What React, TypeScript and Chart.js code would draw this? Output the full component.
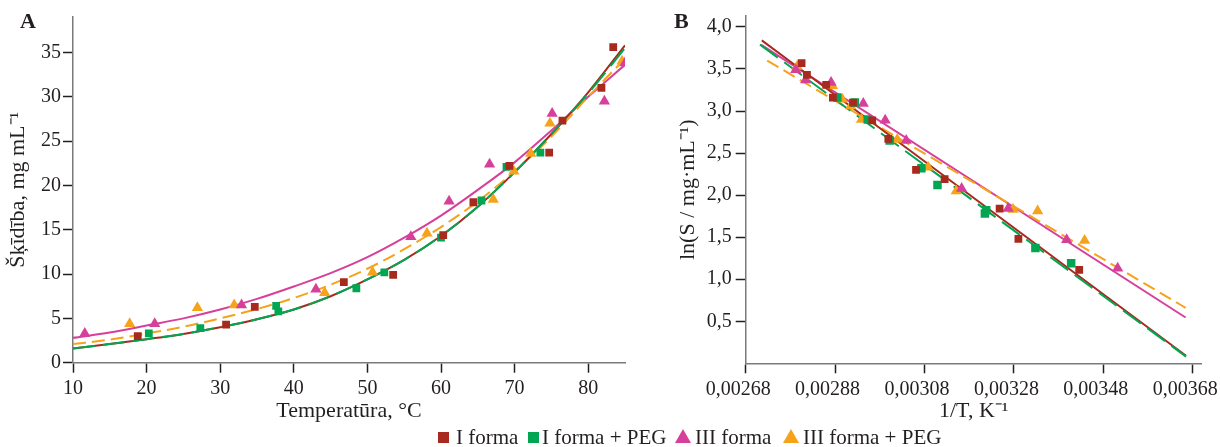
import React, { useEffect, useRef } from 'react';
import { Chart, registerables } from 'chart.js';
Chart.register(...registerables);

const FONT = '"Liberation Serif", "Times New Roman", serif';
const TXT = '#231F20';
const RED = '#A82A1E';
const GREEN = '#00A651';
const PINK = '#D6409B';
const ORANGE = '#F7A21B';

// ---- tick labels ----
const A_TICKS_X = [10, 20, 30, 40, 50, 60, 70, 80];
const A_TICKS_Y = [0, 5, 10, 15, 20, 25, 30, 35];
const B_TICKS_X = [0.00268, 0.00288, 0.00308, 0.00328, 0.00348, 0.00368];
const B_TICKS_Y = [0.5, 1.0, 1.5, 2.0, 2.5, 3.0, 3.5, 4.0];

// ---- series names ----
const SERIES = ['I forma', 'I forma + PEG', 'III forma', 'III forma + PEG'];

// ---- Panel A: measured points (T, °C ; S, mg/mL) ----
const tIForma = [18.8, 30.8, 34.7, 46.8, 53.5, 60.3, 64.4, 69.3, 74.7, 76.5, 81.8, 83.4];
const sIForma = [3.0, 4.3, 6.3, 9.1, 9.9, 14.4, 18.1, 22.2, 23.7, 27.3, 31.0, 35.6];
const tIFormaPEG = [20.3, 27.3, 37.6, 37.9, 48.5, 52.3, 60.0, 65.5, 68.9, 73.5];
const sIFormaPEG = [3.3, 3.9, 6.4, 5.8, 8.4, 10.2, 14.1, 18.3, 22.1, 23.7];
const tIIIForma = [11.6, 21.1, 32.9, 43.0, 55.9, 61.1, 66.6, 75.1, 82.2, 85.0];
const sIIIForma = [3.3, 4.4, 6.5, 8.3, 14.2, 18.2, 22.4, 28.1, 29.5, 33.8];
const tIIIFormaPEG = [17.7, 26.9, 31.9, 44.2, 50.7, 58.1, 67.1, 69.9, 72.2, 74.8, 84.6];
const sIIIFormaPEG = [4.4, 6.2, 6.5, 7.9, 10.2, 14.6, 18.4, 21.6, 23.6, 27.0, 34.0];

// ---- Panel A: fitted curves ----
const tFit = [10, 15, 20, 25, 30, 35, 40, 45, 50, 55, 60, 65, 70, 75, 80, 85];
const fitIForma = [1.6, 2.1, 2.65, 3.25, 4.0, 4.9, 6.0, 7.5, 9.4, 11.6, 14.3, 17.6, 21.5, 25.8, 30.5, 35.8];
const fitIFormaPEG = [1.6, 2.1, 2.65, 3.25, 4.0, 4.9, 6.0, 7.5, 9.4, 11.6, 14.3, 17.6, 21.5, 25.8, 30.4, 35.5];
const fitIIIForma = [2.8, 3.4, 4.2, 5.0, 6.0, 7.2, 8.6, 10.1, 11.9, 14.1, 16.6, 19.5, 22.6, 26.2, 30.0, 33.6];
const fitIIIFormaPEG = [2.1, 2.6, 3.3, 4.05, 5.0, 6.05, 7.3, 8.8, 10.6, 12.8, 15.3, 18.2, 21.6, 25.5, 30.0, 34.3];

// ---- Panel B: measured points (1/T ; ln S) ----
const xIForma = [0.002805, 0.002817, 0.00286, 0.002875, 0.00292, 0.002963, 0.002999, 0.003061, 0.003125, 0.003248, 0.00329, 0.003426];
const yIForma = [3.57, 3.43, 3.31, 3.16, 3.1, 2.89, 2.67, 2.3, 2.19, 1.84, 1.48, 1.11];
const xIFormaPEG = [0.002885, 0.002924, 0.002953, 0.003002, 0.003073, 0.003109, 0.003215, 0.003218, 0.003328, 0.003408];
const yIFormaPEG = [3.16, 3.1, 2.9, 2.65, 2.32, 2.12, 1.78, 1.82, 1.37, 1.19];
const xIIIForma = [0.002792, 0.002814, 0.002871, 0.002943, 0.002992, 0.003039, 0.003163, 0.003267, 0.003398, 0.003512];
const yIIIForma = [3.49, 3.37, 3.34, 3.09, 2.89, 2.65, 2.08, 1.84, 1.47, 1.13];
const xIIIFormaPEG = [0.002795, 0.002874, 0.002896, 0.002915, 0.002939, 0.003019, 0.003088, 0.003151, 0.003278, 0.003333, 0.003438];
const yIIIFormaPEG = [3.53, 3.3, 3.14, 3.06, 2.9, 2.66, 2.33, 2.05, 1.83, 1.81, 1.46];

// ---- Panel B: fitted lines (end points) ----
const lineXIForma = [0.002716, 0.003665];
const lineYIForma = [3.84, 0.09];
const lineXIFormaPEG = [0.002712, 0.003665];
const lineYIFormaPEG = [3.79, 0.08];
const lineXIIIForma = [0.002714, 0.003664];
const lineYIIIForma = [3.79, 0.545];
const lineXIIIFormaPEG = [0.002728, 0.003664];
const lineYIIIFormaPEG = [3.6, 0.66];

function pts(xs: number[], ys: number[]) {
  return xs.map((x, i) => ({ x, y: ys[i] }));
}

function scatterDs(label: string, xs: number[], ys: number[], color: string, style: string, r: number) {
  return {
    type: 'scatter' as const,
    label,
    data: pts(xs, ys),
    pointStyle: style,
    pointRadius: r,
    pointBackgroundColor: color,
    pointBorderColor: color,
    pointBorderWidth: 0,
    showLine: false,
    order: 0,
  };
}

function lineDs(label: string, xs: number[], ys: number[], color: string, dash: number[], order: number) {
  return {
    type: 'line' as const,
    label,
    data: pts(xs, ys),
    borderColor: color,
    borderWidth: 2,
    borderDash: dash,
    pointRadius: 0,
    fill: false,
    tension: 0.4,
    cubicInterpolationMode: 'monotone' as const,
    order,
  };
}

function makeScale(o: {
  horizontal: boolean;
  min: number;
  max: number;
  ticks: number[];
  fmt: (v: number) => string;
  title: string;
  titlePad: any;
  size: number;
  tickPad: number;
}) {
  return {
    type: 'linear' as const,
    position: o.horizontal ? 'bottom' : 'left',
    min: o.min,
    max: o.max,
    afterBuildTicks: (s: any) => {
      s.ticks = o.ticks.map((v) => ({ value: v }));
    },
    afterFit: (s: any) => {
      if (o.horizontal) s.height = o.size;
      else s.width = o.size;
    },
    ticks: {
      autoSkip: false,
      maxRotation: 0,
      padding: o.tickPad,
      color: TXT,
      font: { family: FONT, size: 20 },
      callback: (v: any) => o.fmt(Number(v)),
    },
    grid: {
      display: true,
      drawOnChartArea: false,
      drawTicks: true,
      tickLength: 10,
      tickColor: TXT,
      tickWidth: 1.5,
    },
    border: { display: true, color: '#7A7A7A', width: 1.5 },
    title: {
      display: true,
      text: o.title,
      color: TXT,
      font: { family: FONT, size: 22 },
      padding: o.titlePad,
    },
  };
}

const CANVAS_H = 430;

function configA(): any {
  return {
    type: 'scatter',
    data: {
      datasets: [
        scatterDs(SERIES[0], tIForma, sIForma, RED, 'rect', 5.5),
        scatterDs(SERIES[1], tIFormaPEG, sIFormaPEG, GREEN, 'rect', 5.5),
        scatterDs(SERIES[2], tIIIForma, sIIIForma, PINK, 'triangle', 6.5),
        scatterDs(SERIES[3], tIIIFormaPEG, sIIIFormaPEG, ORANGE, 'triangle', 6.5),
        lineDs(SERIES[1], tFit, fitIFormaPEG, GREEN, [22, 8], 1),
        lineDs(SERIES[0], tFit, fitIForma, RED, [], 2),
        lineDs(SERIES[3], tFit, fitIIIFormaPEG, ORANGE, [13, 6], 3),
        lineDs(SERIES[2], tFit, fitIIIForma, PINK, [], 4),
      ],
    },
    options: {
      responsive: false,
      animation: false,
      events: [],
      layout: { padding: { left: 0, top: 17, right: 35, bottom: 0 } },
      plugins: { legend: { display: false }, tooltip: { enabled: false } },
      scales: {
        x: makeScale({
          horizontal: true, min: 10, max: 85, ticks: A_TICKS_X, fmt: (v) => String(v),
          title: 'Temperatūra, °C', titlePad: { top: 0, bottom: 6 }, size: CANVAS_H - 362.7, tickPad: 4,
        }),
        y: makeScale({
          horizontal: false, min: 0, max: 39, ticks: A_TICKS_Y, fmt: (v) => String(v),
          title: 'Šķīdība, mg mL⁻¹', titlePad: { top: 5, bottom: 0 }, size: 73, tickPad: 2,
        }),
      },
    },
  };
}

function configB(): any {
  return {
    type: 'scatter',
    data: {
      datasets: [
        scatterDs(SERIES[0], xIForma, yIForma, RED, 'rect', 5.5),
        scatterDs(SERIES[1], xIFormaPEG, yIFormaPEG, GREEN, 'rect', 6),
        scatterDs(SERIES[2], xIIIForma, yIIIForma, PINK, 'triangle', 6.5),
        scatterDs(SERIES[3], xIIIFormaPEG, yIIIFormaPEG, ORANGE, 'triangle', 6.5),
        lineDs(SERIES[1], lineXIFormaPEG, lineYIFormaPEG, GREEN, [22, 8], 1),
        lineDs(SERIES[0], lineXIForma, lineYIForma, RED, [], 2),
        lineDs(SERIES[3], lineXIIIFormaPEG, lineYIIIFormaPEG, ORANGE, [13, 6], 3),
        lineDs(SERIES[2], lineXIIIForma, lineYIIIForma, PINK, [], 4),
      ],
    },
    options: {
      responsive: false,
      animation: false,
      events: [],
      layout: { padding: { left: 0, top: 15, right: 38.3, bottom: 0 } },
      plugins: { legend: { display: false }, tooltip: { enabled: false } },
      scales: {
        x: makeScale({
          horizontal: true, min: 0.00268, max: 0.0037, ticks: B_TICKS_X,
          fmt: (v) => v.toFixed(5).replace('.', ',') + '\u00a0\u00a0\u00a0',
          title: '1/T, K⁻¹', titlePad: { top: 0, bottom: 6 }, size: CANVAS_H - 363.3, tickPad: 4,
        }),
        y: makeScale({
          horizontal: false, min: 0, max: 4.13, ticks: B_TICKS_Y,
          fmt: (v) => v.toFixed(1).replace('.', ','),
          title: 'ln(S / mg·mL⁻¹)', titlePad: { top: 15, bottom: 0 }, size: 85.7, tickPad: 4,
        }),
      },
    },
  };
}

function Square({ color, left }: { color: string; left: number }) {
  return <span style={{ position: 'absolute', left, top: 432, width: 11, height: 11, background: color }} />;
}
function Triangle({ color, left }: { color: string; left: number }) {
  return (
    <span
      style={{
        position: 'absolute', left, top: 429, width: 0, height: 0,
        borderLeft: '8px solid transparent', borderRight: '8px solid transparent',
        borderBottom: `14px solid ${color}`,
      }}
    />
  );
}
function LegendText({ text, left }: { text: string; left: number }) {
  return (
    <span style={{ position: 'absolute', left, top: 426, fontSize: 21, lineHeight: '22px', whiteSpace: 'nowrap' }}>{text}</span>
  );
}

export default function App() {
  const refA = useRef<HTMLCanvasElement>(null);
  const refB = useRef<HTMLCanvasElement>(null);
  useEffect(() => {
    const a = new Chart(refA.current as HTMLCanvasElement, configA());
    const b = new Chart(refB.current as HTMLCanvasElement, configB());
    return () => {
      a.destroy();
      b.destroy();
    };
  }, []);

  return (
    <div style={{ position: 'absolute', left: 0, top: 0, width: 1220, height: 447, overflow: 'hidden', background: '#fff', fontFamily: FONT, color: TXT }}>
      <canvas ref={refA} width={660} height={CANVAS_H} style={{ position: 'absolute', left: 0, top: 0, width: 660, height: CANVAS_H }} />
      <canvas ref={refB} width={580} height={CANVAS_H} style={{ position: 'absolute', left: 660, top: 0, width: 580, height: CANVAS_H }} />
      <div style={{ position: 'absolute', left: 20, top: 9, fontWeight: 'bold', fontSize: 22, lineHeight: '24px' }}>A</div>
      <div style={{ position: 'absolute', left: 674, top: 9, fontWeight: 'bold', fontSize: 22, lineHeight: '24px' }}>B</div>
      <Square color={RED} left={438} />
      <LegendText text={SERIES[0]} left={456} />
      <Square color={GREEN} left={528} />
      <LegendText text={SERIES[1]} left={542} />
      <Triangle color={PINK} left={675} />
      <LegendText text={SERIES[2]} left={695} />
      <Triangle color={ORANGE} left={783} />
      <LegendText text={SERIES[3]} left={803} />
    </div>
  );
}
